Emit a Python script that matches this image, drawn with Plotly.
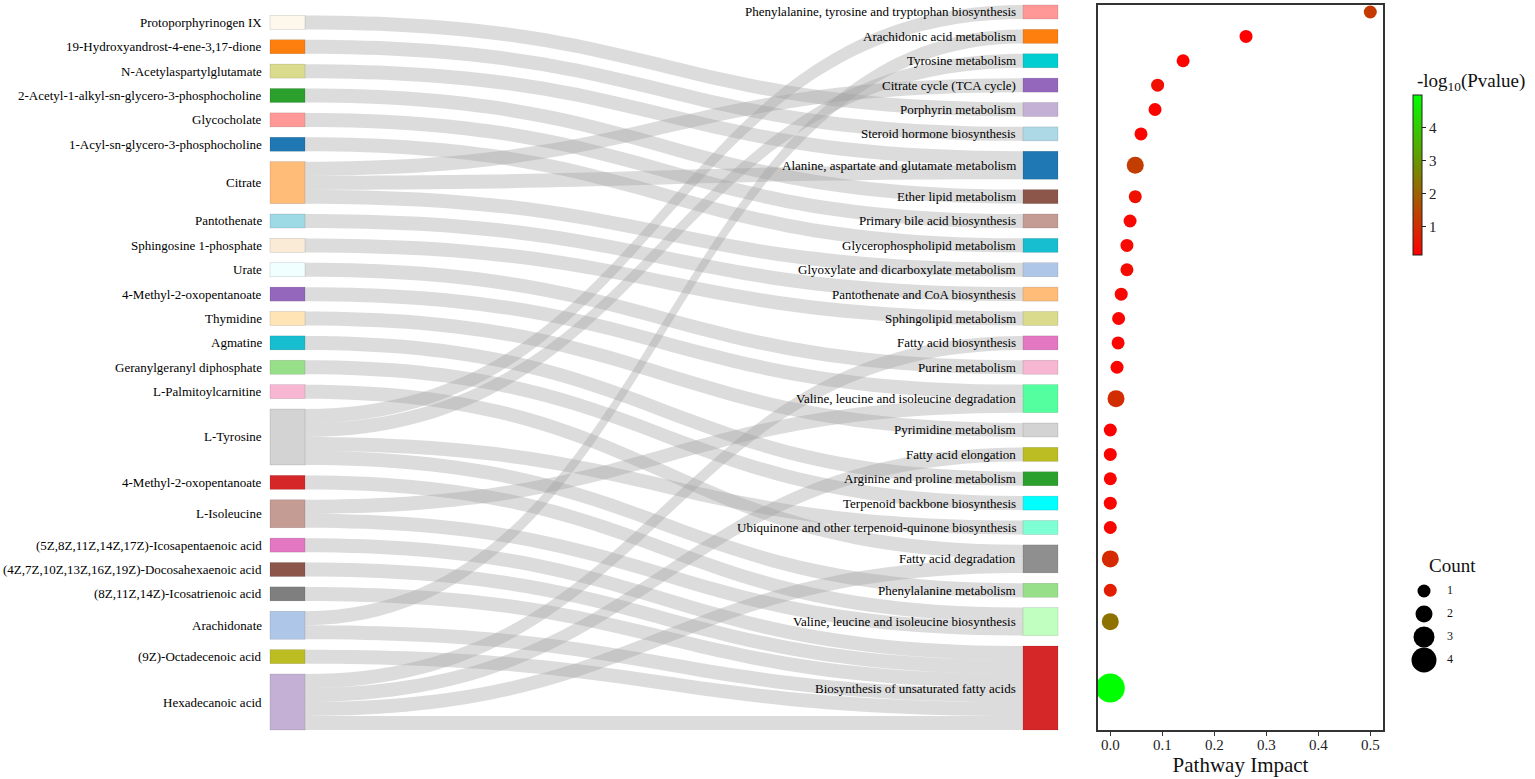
import plotly.graph_objects as go

# ---------------- data ----------------
left_nodes = [
    "Protoporphyrinogen IX",
    "19-Hydroxyandrost-4-ene-3,17-dione",
    "N-Acetylaspartylglutamate",
    "2-Acetyl-1-alkyl-sn-glycero-3-phosphocholine",
    "Glycocholate",
    "1-Acyl-sn-glycero-3-phosphocholine",
    "Citrate",
    "Pantothenate",
    "Sphingosine 1-phosphate",
    "Urate",
    "4-Methyl-2-oxopentanoate",
    "Thymidine",
    "Agmatine",
    "Geranylgeranyl diphosphate",
    "L-Palmitoylcarnitine",
    "L-Tyrosine",
    "4-Methyl-2-oxopentanoate",
    "L-Isoleucine",
    "(5Z,8Z,11Z,14Z,17Z)-Icosapentaenoic acid",
    "(4Z,7Z,10Z,13Z,16Z,19Z)-Docosahexaenoic acid",
    "(8Z,11Z,14Z)-Icosatrienoic acid",
    "Arachidonate",
    "(9Z)-Octadecenoic acid",
    "Hexadecanoic acid",
]
left_colors = [
    "#fdf7ec", "#ff7f0e", "#dbdb8d", "#2ca02c", "#ff9896", "#1f77b4",
    "#ffbb78", "#9edae5", "#faebd7", "#f0ffff", "#9467bd", "#ffe4b5",
    "#17becf", "#98df8a", "#f7b6d2", "#d3d3d3", "#d62728", "#c49c94",
    "#e377c2", "#8c564b", "#7f7f7f", "#aec7e8", "#bcbd22", "#c5b0d5",
]

pathways = [
    "Phenylalanine, tyrosine and tryptophan biosynthesis",
    "Arachidonic acid metabolism",
    "Tyrosine metabolism",
    "Citrate cycle (TCA cycle)",
    "Porphyrin metabolism",
    "Steroid hormone biosynthesis",
    "Alanine, aspartate and glutamate metabolism",
    "Ether lipid metabolism",
    "Primary bile acid biosynthesis",
    "Glycerophospholipid metabolism",
    "Glyoxylate and dicarboxylate metabolism",
    "Pantothenate and CoA biosynthesis",
    "Sphingolipid metabolism",
    "Fatty acid biosynthesis",
    "Purine metabolism",
    "Valine, leucine and isoleucine degradation",
    "Pyrimidine metabolism",
    "Fatty acid elongation",
    "Arginine and proline metabolism",
    "Terpenoid backbone biosynthesis",
    "Ubiquinone and other terpenoid-quinone biosynthesis",
    "Fatty acid degradation",
    "Phenylalanine metabolism",
    "Valine, leucine and isoleucine biosynthesis",
    "Biosynthesis of unsaturated fatty acids",
]
pathway_colors = [
    "#ff9896", "#ff7f0e", "#00ced1", "#9467bd", "#c5b0d5", "#add8e6",
    "#1f77b4", "#8c564b", "#c49c94", "#17becf", "#aec7e8", "#ffbb78",
    "#dbdb8d", "#e377c2", "#f7b6d2", "#54ff9f", "#d3d3d3", "#bcbd22",
    "#2ca02c", "#00ffff", "#7fffd4", "#8f8f8f", "#98df8a", "#c1ffc1",
    "#d62728",
]

# links: metabolite index -> pathway index
link_src = [0, 1, 2, 3, 4, 5, 6, 6, 6, 7, 8, 9, 10, 11, 12, 13, 14,
            15, 15, 15, 15, 16, 17, 17, 18, 19, 20, 21, 21, 22, 23, 23, 23, 23]
link_tgt = [4, 5, 6, 7, 8, 9, 3, 6, 10, 11, 12, 14, 15, 16, 18, 19, 21,
            0, 2, 20, 22, 23, 15, 23, 24, 24, 24, 1, 24, 24, 13, 17, 21, 24]
link_val = [1, 1, 1, 1, 1, 1, 1, 1, 1, 1, 1, 1, 1, 1, 1, 1, 1,
            1, 1, 1, 1, 1, 1, 1, 1, 1, 1, 1, 1, 1, 1, 1, 1, 1]

pathway_impact = [0.50, 0.261, 0.14, 0.091, 0.086, 0.059, 0.048, 0.048, 0.038,
                  0.032, 0.032, 0.021, 0.016, 0.015, 0.013, 0.011, 0.0, 0.0,
                  0.0, 0.0, 0.0, 0.0, 0.0, 0.0, 0.0]
neg_log10_p = [1.25, 0.15, 0.2, 0.45, 0.2, 0.25, 1.3, 0.45, 0.3, 0.3, 0.35,
               0.3, 0.25, 0.25, 0.2, 1.0, 0.15, 0.2, 0.2, 0.2, 0.25, 0.95,
               0.7, 2.3, 4.98]
hit_count = [1, 1, 1, 1, 1, 1, 2, 1, 1, 1, 1, 1, 1, 1, 1, 2, 1, 1, 1, 1, 1,
             2, 1, 2, 5]

count_legend = [1, 2, 3, 4]
colorbar_ticks = [1, 2, 3, 4]
impact_ticks = [0.0, 0.1, 0.2, 0.3, 0.4, 0.5]

# ---------------- layout helpers ----------------
FONT = "Liberation Serif, Times New Roman, serif"
W, HGT = 1535, 779
M_T, M_B = 5, 49
PH = HGT - M_T - M_B


def paper_x(px):
    return px / W


def paper_y(py):
    return (HGT - M_B - py) / PH


def msize(c):
    return 9 + 4 * c


NODE_PAD = 10.375
NODE_W = 35
SK_X0, SK_X1 = 270, 1058
sk_w = SK_X1 - SK_X0

nL, nR = len(left_nodes), len(pathways)
left_val = [sum(v for s, v in zip(link_src, link_val) if s == i) for i in range(nL)]
right_val = [sum(v for t, v in zip(link_tgt, link_val) if t == j) for j in range(nR)]
ky = min((PH - (nL - 1) * NODE_PAD) / sum(left_val),
         (PH - (nR - 1) * NODE_PAD) / sum(right_val))


def centers(vals):
    span = sum(vals) * ky + (len(vals) - 1) * NODE_PAD
    y = PH - span
    out = []
    for v in vals:
        h = v * ky
        out.append(y + h / 2)
        y += h + NODE_PAD
    return out


lc = centers(left_val)
rc = centers(right_val)

node_x = [NODE_W / 2 / sk_w] * nL + [1 - NODE_W / 2 / sk_w] * nR
node_y = [c / PH for c in lc] + [c / PH for c in rc]

fig = go.Figure()

fig.add_trace(go.Sankey(
    domain=dict(x=[paper_x(SK_X0), paper_x(SK_X1)], y=[0, 1]),
    arrangement="fixed",
    node=dict(
        label=[""] * (nL + nR),
        customdata=left_nodes + pathways,
        hovertemplate="%{customdata}<extra></extra>",
        color=left_colors + pathway_colors,
        pad=NODE_PAD,
        thickness=NODE_W,
        x=node_x,
        y=node_y,
        line=dict(width=0.6, color="rgba(0,0,0,0.18)"),
    ),
    link=dict(
        source=link_src,
        target=[t + nL for t in link_tgt],
        value=link_val,
        color="rgba(160,160,160,0.37)",
    ),
))

annotations = []
for name, c in zip(left_nodes, lc):
    annotations.append(dict(x=paper_x(SK_X0 - 6), y=1 - c / PH, xref="paper", yref="paper",
                            text=name, showarrow=False, xanchor="right", yanchor="middle",
                            font=dict(family=FONT, size=13, color="#000")))
for name, c in zip(pathways, rc):
    annotations.append(dict(x=paper_x(SK_X1 - NODE_W - 5), y=1 - c / PH, xref="paper", yref="paper",
                            text=name, showarrow=False, xanchor="right", yanchor="middle",
                            font=dict(family=FONT, size=13, color="#000")))

# bubble chart
fig.add_trace(go.Scatter(
    x=pathway_impact,
    y=[c / PH for c in rc],
    mode="markers",
    text=pathways,
    customdata=hit_count,
    hovertemplate="%{text}<br>Impact %{x}<br>Count %{customdata}<extra></extra>",
    marker=dict(
        size=[msize(c) for c in hit_count],
        sizemode="diameter",
        opacity=1,
        color=neg_log10_p,
        cmin=min(neg_log10_p),
        cmax=max(neg_log10_p),
        colorscale=[[0, "rgb(255,0,0)"], [1, "rgb(0,255,0)"]],
        line=dict(width=0),
        colorbar=dict(
            x=paper_x(1413), xanchor="left", xpad=0,
            y=paper_y(95), yanchor="top", ypad=0,
            len=160 / PH, lenmode="fraction",
            thickness=9, outlinewidth=1, outlinecolor="#222",
            ticks="outside", ticklen=4, tickcolor="#222",
            tickvals=colorbar_ticks,
            tickfont=dict(family=FONT, size=15, color="#222"),
        ),
    ),
    showlegend=False,
    xaxis="x", yaxis="y",
))

# size legend
fig.add_trace(go.Scatter(
    x=[0] * len(count_legend), y=count_legend, mode="markers",
    marker=dict(size=[msize(c) for c in count_legend], color="black", opacity=1,
                line=dict(width=0)),
    cliponaxis=False,
    hoverinfo="skip", showlegend=False, xaxis="x2", yaxis="y2",
))
fig.add_trace(go.Scatter(
    x=[1] * len(count_legend), y=count_legend, mode="text",
    text=[str(c) for c in count_legend],
    textfont=dict(family=FONT, size=12, color="#111"),
    cliponaxis=False,
    hoverinfo="skip", showlegend=False, xaxis="x2", yaxis="y2",
))

annotations.append(dict(x=paper_x(1415), y=paper_y(82), xref="paper", yref="paper",
                        text="-log<sub>10</sub>(Pvalue)", showarrow=False,
                        xanchor="left", yanchor="middle",
                        font=dict(family=FONT, size=19, color="#111")))
annotations.append(dict(x=paper_x(1452), y=paper_y(565), xref="paper", yref="paper",
                        text="Count", showarrow=False, xanchor="center", yanchor="middle",
                        font=dict(family=FONT, size=19, color="#111")))

X0PX = 1110.3
PX_PER_UNIT = 520.0
fig.update_layout(
    width=W, height=HGT,
    margin=dict(l=0, r=0, t=M_T, b=M_B),
    paper_bgcolor="white", plot_bgcolor="white",
    font=dict(family=FONT, color="#111"),
    annotations=annotations,
    xaxis=dict(
        domain=[paper_x(1098), paper_x(1383)],
        range=[(1098 - X0PX) / PX_PER_UNIT, (1383 - X0PX) / PX_PER_UNIT],
        tickvals=impact_ticks, tickformat=".1f",
        showline=True, mirror=True, linecolor="#333", linewidth=1.5,
        ticks="outside", ticklen=4, tickcolor="#333",
        ticklabelstandoff=-4,
        showgrid=False, zeroline=False,
        tickfont=dict(family=FONT, size=15, color="#222"),
        title=dict(text="Pathway Impact", font=dict(family=FONT, size=21, color="#111"), standoff=1),
    ),
    yaxis=dict(
        domain=[0, 1], range=[1, 0],
        showline=True, mirror=True, linecolor="#333", linewidth=1.5,
        showticklabels=False, ticks="", showgrid=False, zeroline=False,
    ),
    xaxis2=dict(
        domain=[paper_x(1400), paper_x(1480)],
        range=[-24 / 26, 56 / 26], visible=False, fixedrange=True,
    ),
    yaxis2=dict(
        domain=[paper_y(670), paper_y(580)],
        range=[4 + 10 / 23, 1 - 11 / 23], visible=False, fixedrange=True,
        anchor="x2",
    ),
)

fig.write_html("out.html", config={"displayModeBar": False},
               post_script="document.body.style.margin='0px';")
